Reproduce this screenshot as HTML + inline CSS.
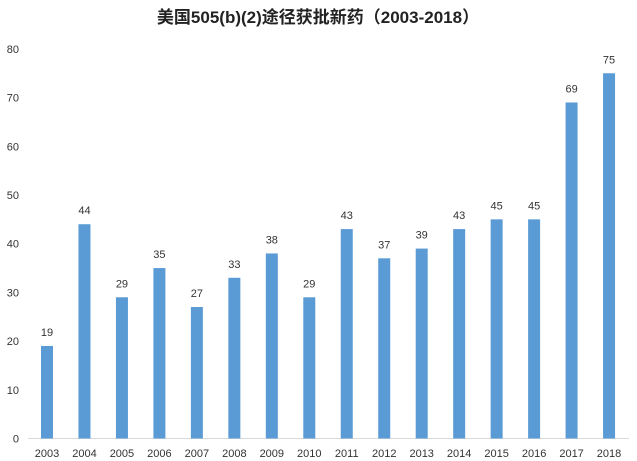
<!DOCTYPE html>
<html><head><meta charset="utf-8"><style>
body{margin:0;background:#fff;}
svg{display:block;font-family:"Liberation Sans","Noto Sans CJK SC",sans-serif;}
</style></head><body>
<svg id="chart" width="637" height="461">
<text x="318" y="23" text-anchor="middle" font-size="17" font-weight="bold" fill="#222">美国505(b)(2)途径获批新药（2003-2018）</text>
<g id="yaxis"></g>
<line x1="28" y1="438.5" x2="629" y2="438.5" stroke="#d9d9d9" stroke-width="1"/>
<g id="bars"></g>
</svg>
<script>
const categories=["2003","2004","2005","2006","2007","2008","2009","2010","2011","2012","2013","2014","2015","2016","2017","2018"];
const values=[19,44,29,35,27,33,38,29,43,37,39,43,45,45,69,75];
const yTicks=[0,10,20,30,40,50,60,70,80];
const NS="http://www.w3.org/2000/svg";
const y0=438.5, pxPer=4.87, x0=47, step=37.47, bw=12;
function yScale(v){return y0-v*pxPer;}
function xScale(i){return x0+i*step;}
const ya=document.getElementById('yaxis');
yTicks.forEach(t=>{
  const tx=document.createElementNS(NS,'text');
  
  
  tx.setAttribute('x',19);tx.setAttribute('y',yScale(t)+4);
  tx.setAttribute('text-anchor','end');tx.setAttribute('font-size','11');tx.setAttribute('fill','#333');
  tx.textContent=t;ya.appendChild(tx);
});
const g=document.getElementById('bars');
values.forEach((v,i)=>{
  const cx=xScale(i);
  const r=document.createElementNS(NS,'rect');
  
  
  r.setAttribute('x',cx-bw/2);r.setAttribute('y',yScale(v));
  r.setAttribute('width',bw);r.setAttribute('height',y0-yScale(v));
  r.setAttribute('fill','#5b9bd5');g.appendChild(r);
  const l=document.createElementNS(NS,'text');
  
  
  l.setAttribute('x',cx);l.setAttribute('y',yScale(v)-10);
  l.setAttribute('text-anchor','middle');l.setAttribute('font-size','11');l.setAttribute('fill','#333');
  l.textContent=v;g.appendChild(l);
  const c=document.createElementNS(NS,'text');
  
  
  c.setAttribute('x',cx);c.setAttribute('y',457);
  c.setAttribute('text-anchor','middle');c.setAttribute('font-size','11');c.setAttribute('fill','#333');
  c.textContent=categories[i];g.appendChild(c);
});
</script>
</body></html>
